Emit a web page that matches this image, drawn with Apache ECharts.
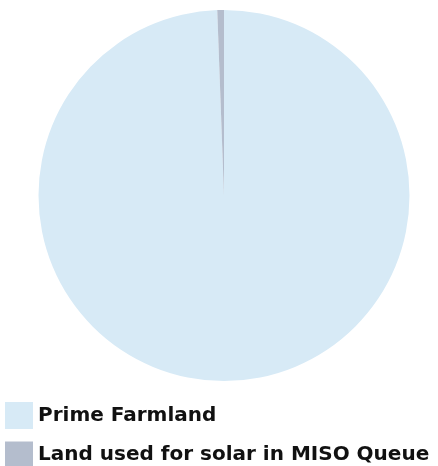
<!DOCTYPE html>
<html>
<head>
<meta charset="utf-8">
<script src="https://cdn.jsdelivr.net/npm/echarts@6/dist/echarts.min.js"></script>
<style>
  html, body { margin: 0; padding: 0; background: #fff; }
  #chart { width: 438px; height: 466px; }
</style>
</head>
<body>
<div id="chart"></div>
<script>
// share of land, percent
const categories = ['Prime Farmland', 'Land used for solar in MISO Queue'];
const values = [99.42, 0.58];
const colors = ['#d7eaf6', '#b4bdcd'];

const chart = echarts.init(document.getElementById('chart'));
chart.setOption({
  animation: false,
  color: colors,
  legend: {
    orient: 'vertical',
    left: 5,
    top: 402,
    height: 100,
    padding: 0,
    itemWidth: 28,
    itemHeight: 27,
    itemGap: 12.5,
    icon: 'rect',
    selectedMode: false,
    textStyle: {
      fontFamily: 'DejaVu Sans',
      fontWeight: 'bold',
      fontSize: 20,
      color: '#111'
    },
    data: categories
  },
  series: [{
    type: 'pie',
    center: [224, 195.5],
    radius: 185.5,
    startAngle: 90,
    clockwise: true,
    label: { show: false },
    labelLine: { show: false },
    emphasis: { disabled: true },
    data: categories.map((name, i) => ({ name: name, value: values[i] }))
  }]
});
</script>
</body>
</html>
